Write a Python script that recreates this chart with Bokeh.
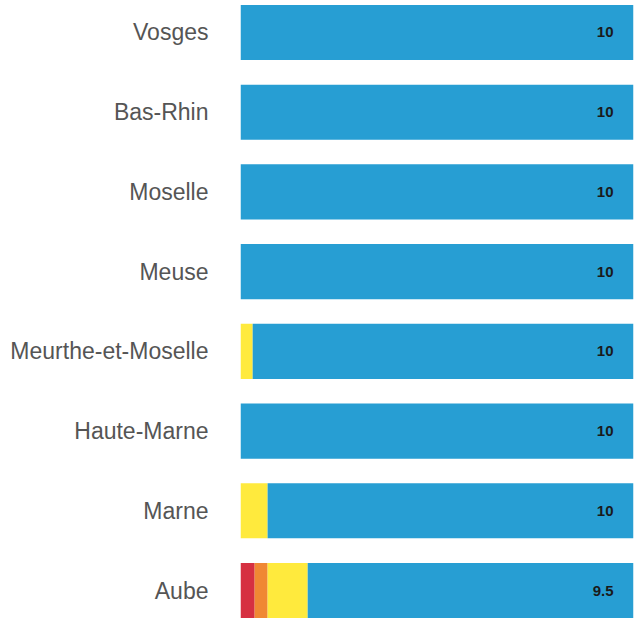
from bokeh.plotting import figure
from bokeh.models import FactorRange, ColumnDataSource
from bokeh.core.properties import value
from bokeh.embed import file_html
from bokeh.resources import INLINE

departments = ["Vosges", "Bas-Rhin", "Moselle", "Meuse", "Meurthe-et-Moselle",
               "Haute-Marne", "Marne", "Aube"]
red = [0, 0, 0, 0, 0, 0, 0, 3.6]
orange = [0, 0, 0, 0, 0, 0, 0, 3.3]
yellow = [0, 0, 0, 0, 3.1, 0, 6.9, 10.2]
blue = [100, 100, 100, 100, 96.9, 100, 93.1, 82.9]
scores = ["10", "10", "10", "10", "10", "10", "10", "9.5"]

segments = ["red", "orange", "yellow", "blue"]
colors = ["#d63041", "#f08833", "#ffea3d", "#279ed3"]

totals = [r + o + y + b for r, o, y, b in zip(red, orange, yellow, blue)]
source = ColumnDataSource(dict(dept=departments, red=red, orange=orange,
                               yellow=yellow, blue=blue, total=totals,
                               score=scores))

y_range = FactorRange(factors=departments[::-1], range_padding=-0.025,
                      range_padding_units="percent")

p = figure(width=637, height=630, y_range=y_range, x_range=(0, 100),
           output_backend="svg", toolbar_location=None,
           min_border_left=240, min_border_right=4, min_border_top=0,
           min_border_bottom=8, x_axis_location=None)

p.hbar_stack(segments, y="dept", height=0.69, color=colors, line_color=None,
             source=source)

p.text(x="total", y="dept", text="score", source=source, x_offset=-20,
       text_align="right", text_baseline="middle", text_font_size="15px",
       text_font_style="bold", text_color="#1a1a1a",
       text_font=value("Liberation Sans"))

p.yaxis.axis_line_color = None
p.yaxis.major_tick_line_color = None
p.yaxis.minor_tick_line_color = None
p.yaxis.major_tick_out = 0
p.yaxis.major_tick_in = 0
p.yaxis.major_label_standoff = 32
p.yaxis.major_label_text_font = "Liberation Sans"
p.yaxis.major_label_text_font_size = "23px"
p.yaxis.major_label_text_color = "#555555"
p.xgrid.visible = False
p.ygrid.visible = False
p.outline_line_color = None
p.background_fill_color = "white"
p.border_fill_color = "white"

open("out.html", "w").write(file_html(p, INLINE))
